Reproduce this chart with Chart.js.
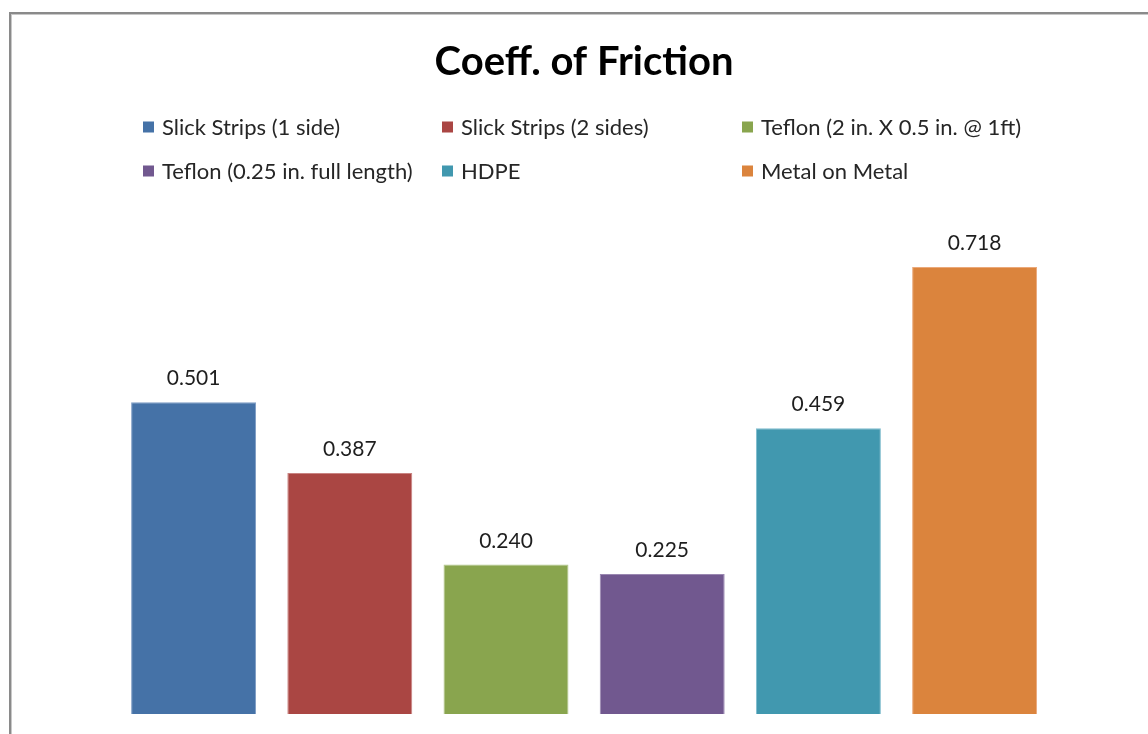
<!DOCTYPE html>
<html>
<head>
<meta charset="utf-8">
<title>Coeff. of Friction</title>
<script src="https://cdn.jsdelivr.net/npm/chart.js@4/dist/chart.umd.min.js"></script>
<style>
  html, body { margin: 0; padding: 0; background: #ffffff; overflow: hidden; }
  #frame {
    position: absolute; left: 9px; top: 12px; width: 1400px; height: 1000px;
    border-left: 2px solid #8a8a8a; border-top: 2px solid #8a8a8a;
    box-shadow: inset 1px 1px 0 #c8c8c8;
  }
  #chart { position: absolute; left: 0; top: 0; }
</style>
</head>
<body>
<div id="frame"></div>
<canvas id="chart" width="1148" height="734"></canvas>
<script>
// Measured coefficients of friction, one bar per sliding material
const materials = [
  'Slick Strips (1 side)',
  'Slick Strips (2 sides)',
  'Teflon (2 in. X 0.5 in. @ 1ft)',
  'Teflon (0.25 in. full length)',
  'HDPE',
  'Metal on Metal'
];
const frictionValues = [0.501, 0.387, 0.240, 0.225, 0.459, 0.718];
const palette = ['#4572A7', '#AA4643', '#89A54E', '#71588F', '#4198AF', '#DB843D'];
const edgePalette = ['#7d9cc4', '#c98381', '#b0c68a', '#9a87b1', '#7fbccd', '#eba97a'];

const FONT = 'Lato, "Open Sans", "Liberation Sans", sans-serif';

// Three-column legend laid out in rows under the title
const gridLegend = {
  id: 'gridLegend',
  afterDraw(chart) {
    const ctx = chart.ctx;
    const cols = [143, 442, 742];
    const rows = [127, 171];
    ctx.save();
    ctx.font = '22px ' + FONT;
    ctx.textBaseline = 'middle';
    ctx.textAlign = 'left';
    chart.data.datasets.forEach((ds, i) => {
      const x = cols[i % 3];
      const y = rows[Math.floor(i / 3)];
      ctx.fillStyle = ds.backgroundColor;
      ctx.fillRect(x, y - 5.5, 11, 11);
      ctx.fillStyle = '#262626';
      ctx.fillText(ds.label, x + 19, y + 1);
    });
    ctx.restore();
  }
};

// Value printed above each bar
const barValues = {
  id: 'barValues',
  afterDatasetsDraw(chart) {
    const ctx = chart.ctx;
    ctx.save();
    ctx.font = '21px ' + FONT;
    ctx.fillStyle = '#1e1e1e';
    ctx.textAlign = 'center';
    ctx.textBaseline = 'alphabetic';
    chart.data.datasets.forEach((ds, i) => {
      const bar = chart.getDatasetMeta(i).data[0];
      ctx.fillText(ds.data[0].toFixed(3), bar.x, bar.y - 17);
    });
    ctx.restore();
  }
};

const datasets = materials.map((name, i) => ({
  label: name,
  data: [frictionValues[i]],
  backgroundColor: palette[i],
  borderColor: edgePalette[i],
  borderWidth: 1
}));

new Chart(document.getElementById('chart'), {
  type: 'bar',
  data: { labels: [''], datasets },
  options: {
    responsive: false,
    animation: false,
    devicePixelRatio: 1,
    layout: { padding: { left: 115.5, right: 95.3, top: 0, bottom: 20 } },
    datasets: { bar: { categoryPercentage: 1, barPercentage: 0.8 } },
    scales: {
      x: { display: false },
      y: { display: false, min: 0, max: 0.8 }
    },
    plugins: {
      legend: { display: false },
      tooltip: { enabled: false },
      title: {
        display: true,
        text: 'Coeff. of Friction',
        color: '#000000',
        font: { family: FONT, size: 40, weight: 'bold', lineHeight: 1.2 },
        padding: { top: 38, bottom: 130 }
      }
    }
  },
  plugins: [gridLegend, barValues]
});
</script>
</body>
</html>
